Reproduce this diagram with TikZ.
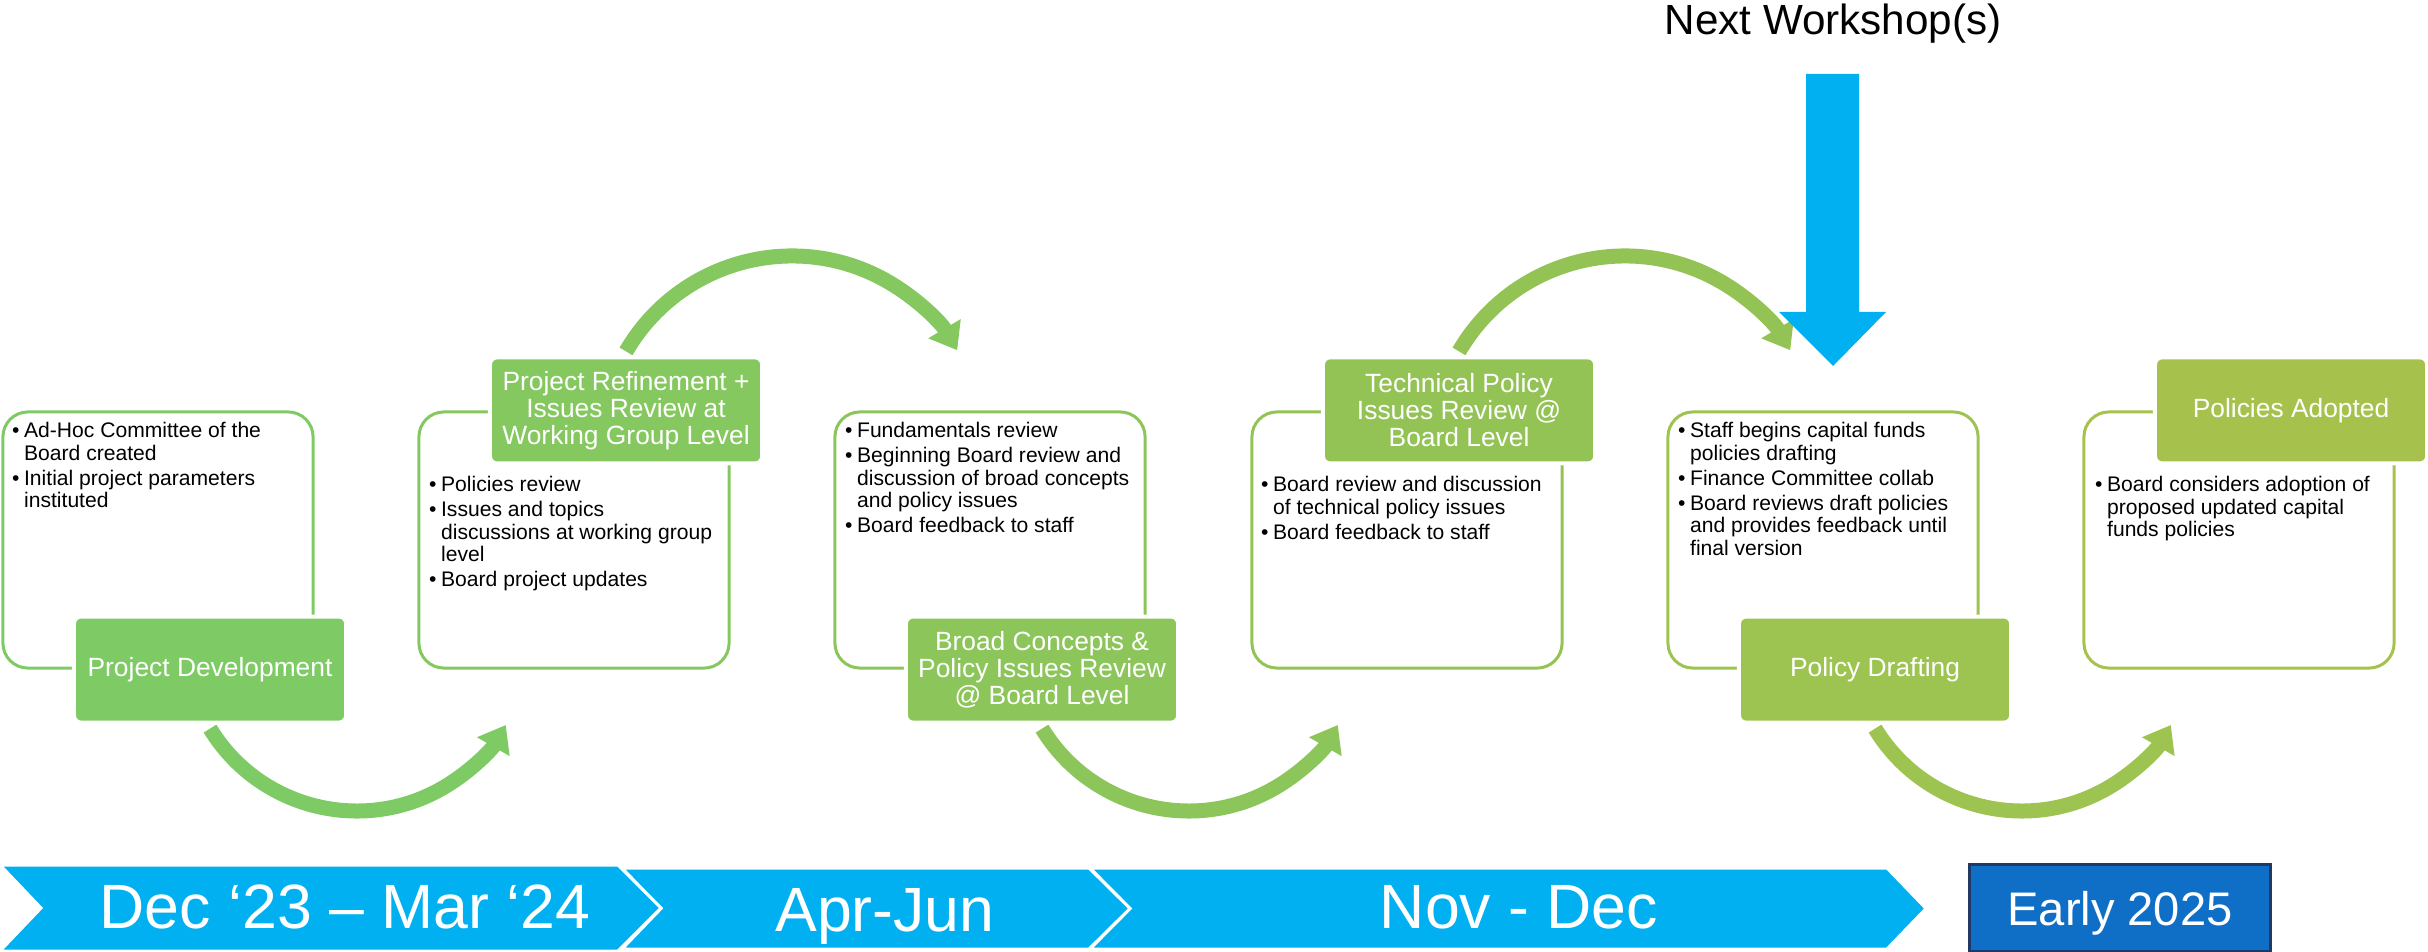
\documentclass[tikz,border=0pt]{standalone}
\usepackage{fontspec}
\setmainfont{Liberation Sans}
\usepackage{xcolor}
\usepackage{tikz}
\usetikzlibrary{arrows.meta,positioning}
\pgfdeclarelayer{bg}
\pgfsetlayers{bg,main}

\definecolor{stageA}{HTML}{7ECB65}
\definecolor{stageB}{HTML}{85C85F}
\definecolor{stageC}{HTML}{8CC55A}
\definecolor{stageD}{HTML}{94C355}
\definecolor{stageE}{HTML}{9DC451}
\definecolor{stageF}{HTML}{A6C24C}
\definecolor{tlblue}{HTML}{00B0F0}
\definecolor{earlyblue}{HTML}{0F6FC6}
\definecolor{navy}{HTML}{203864}

\newcommand{\bul}{\makebox[0.12cm][l]{\textbullet}}
\newcommand{\ind}{\hspace*{0.12cm}}

\begin{document}
\begin{tikzpicture}[
			x=0.01cm, y=-0.01cm,
			panel/.style={draw, rounded corners=0.25cm, line width=0.03cm, minimum width=3.1cm, minimum height=2.56cm, inner sep=0},
			stage/.style={rounded corners=0.07cm, draw=white, line width=0.04cm, text=white, align=center, minimum width=2.72cm, minimum height=1.06cm, inner sep=0, font=\fontsize{7.5}{7.7}\selectfont},
			notes/.style={anchor=north west, inner sep=0, align=left, font=\fontsize{6}{6.4}\selectfont},
			hop/.style={line width=0.15cm, -{Triangle[length=0.25cm, width=0.36cm]}},
			period/.style={fill=tlblue, draw=white, line width=0.03cm},
			periodtext/.style={text=white, anchor=base, font=\fontsize{17.8}{20}\selectfont}
			]

			\useasboundingbox (0,0) rectangle (2428,952);

			% outlined panels
			\node[panel, draw=stageA] (p1) at (158,540) {};
			\node[panel, draw=stageB] (p2) at (574,540) {};
			\node[panel, draw=stageC] (p3) at (990,540) {};
			\node[panel, draw=stageD] (p4) at (1407,540) {};
			\node[panel, draw=stageE] (p5) at (1823,540) {};
			\node[panel, draw=stageF] (p6) at (2239,540) {};

			\node[notes] (n1) at ([xshift=0.1cm,yshift=-0.115cm]p1.north west) {\bul Ad-Hoc Committee of the\\\ind Board created\\[0.7pt]\bul Initial project parameters\\\ind instituted};
			\node[notes] (n2) at ([xshift=0.11cm,yshift=-0.655cm]p2.north west) {\bul Policies review\\[0.7pt]\bul Issues and topics\\\ind discussions at working group\\\ind level\\[0.7pt]\bul Board project updates};
			\node[notes] (n3) at ([xshift=0.11cm,yshift=-0.115cm]p3.north west) {\bul Fundamentals review\\[0.7pt]\bul Beginning Board review and\\\ind discussion of broad concepts\\\ind and policy issues\\[0.7pt]\bul Board feedback to staff};
			\node[notes] (n4) at ([xshift=0.1cm,yshift=-0.655cm]p4.north west) {\bul Board review and discussion\\\ind of technical policy issues\\[0.7pt]\bul Board feedback to staff};
			\node[notes] (n5) at ([xshift=0.11cm,yshift=-0.115cm]p5.north west) {\bul Staff begins capital funds\\\ind policies drafting\\[0.7pt]\bul Finance Committee collab\\[0.7pt]\bul Board reviews draft policies\\\ind and provides feedback until\\\ind final version};
			\node[notes] (n6) at ([xshift=0.12cm,yshift=-0.655cm]p6.north west) {\bul Board considers adoption of\\\ind proposed updated capital\\\ind funds policies};

			% stage titles
			\node[stage, fill=stageA] (t1) at ([xshift=0.52cm]p1.south) {Project Development};
			\node[stage, fill=stageB] (t2) at ([xshift=0.52cm]p2.north) {Project Refinement +\\Issues Review at\\Working Group Level};
			\node[stage, fill=stageC] (t3) at ([xshift=0.52cm]p3.south) {Broad Concepts \&\\Policy Issues Review\\@ Board Level};
			\node[stage, fill=stageD] (t4) at ([xshift=0.52cm]p4.north) {Technical Policy\\Issues Review @\\Board Level};
			\node[stage, fill=stageE] (t5) at ([xshift=0.52cm]p5.south) {Policy Drafting};
			\node[stage, fill=stageF] (t6) at ([xshift=0.52cm]p6.north) {Policies Adopted};

			\begin{pgfonlayer}{bg}
				\foreach \t/\c in {t1/stageA,t3/stageC,t5/stageE}
					\draw[hop,\c] ([yshift=-0.04cm]\t.south) arc[start angle=148.6, end angle=30, radius=172];
				\foreach \t/\c in {t2/stageB,t4/stageD}
					\draw[hop,\c] ([yshift=0.04cm]\t.north) arc[start angle=210.2, end angle=329.4, radius=192];
			\end{pgfonlayer}

			% next workshop marker
			\node[anchor=base, font=\fontsize{12}{14}\selectfont] (next) at (1833,35) {Next Workshop(s)};
			\fill[tlblue] (1806,74) -- (1859,74) -- (1859,312) -- (1886,312) -- (1833,366) -- (1779,312) -- (1806,312) -- cycle;

			% timeline
			\draw[period] (1090,868) -- (1887,868) -- (1926,908.5) -- (1887,949) -- (1090,949) -- (1130,908.5) -- cycle;
			\draw[period] (622,868) -- (1089,868) -- (1130,908.5) -- (1089,949) -- (622,949) -- (661,908.5) -- cycle;
			\draw[period] (0,865) -- (618,865) -- (661,908) -- (618,951) -- (0,951) -- (41,908) -- cycle;
			\node[periodtext] (dec) at (345,928) {Dec ‘23 – Mar ‘24};
			\node[periodtext] (apr) at (885,931) {Apr-Jun};
			\node[periodtext] (nov) at (1519,928) {Nov - Dec};
			\node[draw=navy, fill=earlyblue, line width=0.03cm, minimum width=3.0cm, minimum height=0.86cm, inner sep=0, text depth=0pt, text=white, font=\fontsize{13.4}{15}\selectfont] (early) at (2120,908) {Early 2025};

		\end{tikzpicture}
\end{document}
